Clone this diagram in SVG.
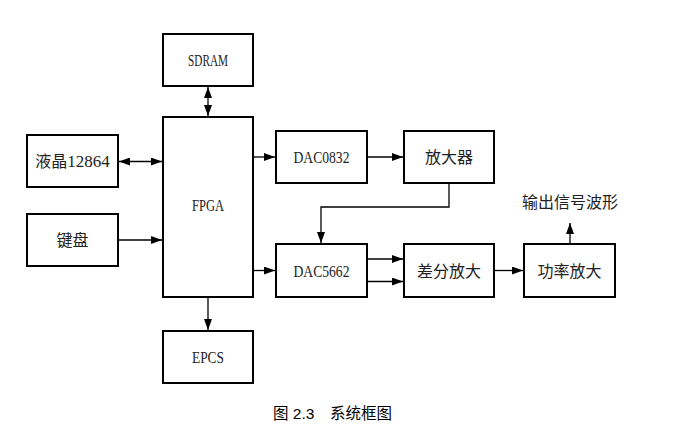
<svg xmlns="http://www.w3.org/2000/svg" width="674" height="432" viewBox="0 0 674 432">
<style>
.box{fill:#fff;stroke:#000;stroke-width:2}
.lbl{font-family:"Liberation Serif","Noto Sans CJK SC",serif;font-size:17px;fill:#222;text-anchor:middle}
.cn{font-family:"Noto Sans CJK SC",sans-serif;font-size:16px;fill:#222;text-anchor:middle}
.cap{font-family:"Liberation Sans","Noto Sans CJK SC",sans-serif;font-size:15.5px;fill:#000}
.ln{fill:none;stroke:#000;stroke-width:1.3}
</style>
<defs>
<marker id="ah" markerWidth="11" markerHeight="8" refX="11" refY="4" orient="auto-start-reverse" markerUnits="userSpaceOnUse">
<path d="M0,0 L11,4 L0,8 z" fill="#000"/>
</marker>
</defs>
<rect width="674" height="432" fill="#fff"/>
<g id="connectors">
<path class="ln" d="M208,87 V116" marker-start="url(#ah)" marker-end="url(#ah)"/>
<path class="ln" d="M119,161.5 H162" marker-start="url(#ah)" marker-end="url(#ah)"/>
<path class="ln" d="M119,240 H162" marker-end="url(#ah)"/>
<path class="ln" d="M254,157 H275" marker-end="url(#ah)"/>
<path class="ln" d="M367,157 H403" marker-end="url(#ah)"/>
<path class="ln" d="M449,184 V207 H321 V243" marker-end="url(#ah)"/>
<path class="ln" d="M254,270.5 H275" marker-end="url(#ah)"/>
<path class="ln" d="M367,259 H403" marker-end="url(#ah)"/>
<path class="ln" d="M367,281.5 H403" marker-end="url(#ah)"/>
<path class="ln" d="M495,270.5 H523" marker-end="url(#ah)"/>
<path class="ln" d="M570,243 V223" marker-end="url(#ah)"/>
<path class="ln" d="M208,298 V330" marker-end="url(#ah)"/>
</g>
<g id="sdram"><rect class="box" x="163" y="34" width="90" height="52"/><text class="lbl" x="208" y="65.5" textLength="40" lengthAdjust="spacingAndGlyphs">SDRAM</text></g>
<g id="fpga"><rect class="box" x="163" y="117" width="90" height="180"/><text class="lbl" x="208" y="211" textLength="32" lengthAdjust="spacingAndGlyphs">FPGA</text></g>
<g id="lcd"><rect class="box" x="27" y="135" width="91" height="52"/><text class="lbl" x="72.5" y="167"><tspan font-family="Noto Sans CJK SC" font-size="16">液晶</tspan>12864</text></g>
<g id="keyboard"><rect class="box" x="27" y="214" width="91" height="52"/><text class="cn" x="72.5" y="246">键盘</text></g>
<g id="epcs"><rect class="box" x="163" y="331" width="90" height="52"/><text class="lbl" x="208" y="362.5" textLength="32" lengthAdjust="spacingAndGlyphs">EPCS</text></g>
<g id="dac0832"><rect class="box" x="276" y="131" width="91" height="52"/><text class="lbl" x="321.5" y="163" textLength="56" lengthAdjust="spacingAndGlyphs">DAC0832</text></g>
<g id="amp"><rect class="box" x="404" y="131" width="90" height="52"/><text class="cn" x="449" y="163">放大器</text></g>
<g id="dac5662"><rect class="box" x="276" y="244" width="91" height="53"/><text class="lbl" x="321.5" y="276.5" textLength="56" lengthAdjust="spacingAndGlyphs">DAC5662</text></g>
<g id="diffamp"><rect class="box" x="404" y="244" width="90" height="53"/><text class="cn" x="449" y="276.5">差分放大</text></g>
<g id="poweramp"><rect class="box" x="524" y="244" width="91" height="53"/><text class="cn" x="569.5" y="276.5">功率放大</text></g>
<g id="output"><text class="cn" x="570" y="208">输出信号波形</text></g>
<g id="caption"><text class="cap" x="273" y="419">图 2.3<tspan x="330">系统框图</tspan></text></g>
</svg>
